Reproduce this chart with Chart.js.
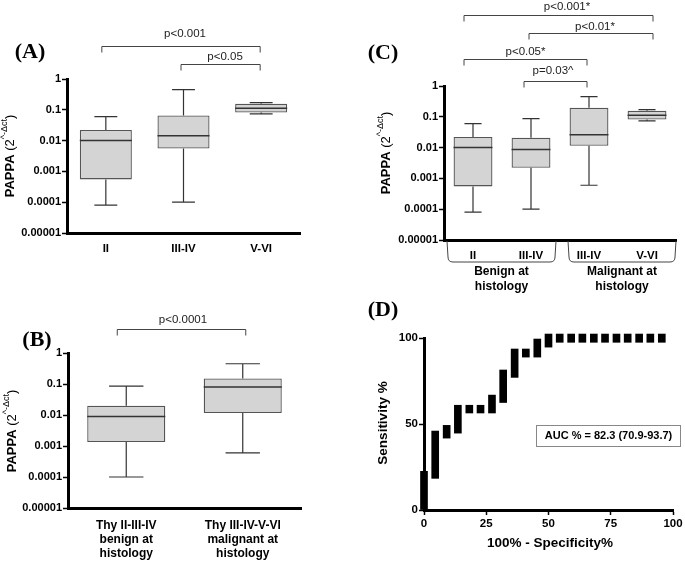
<!DOCTYPE html>
<html>
<head>
<meta charset="utf-8">
<script src="https://cdn.jsdelivr.net/npm/chart.js@4.4.1/dist/chart.umd.min.js"></script>
<style>
  body { margin: 0; background: #fff; }
  #wrap { position: relative; width: 685px; height: 562px; }
  #wrap canvas { position: absolute; left: 0; top: 0; }
</style>
</head>
<body>
<div id="wrap">
  <canvas id="chartA" width="685" height="562"></canvas>
  <canvas id="chartB" width="685" height="562"></canvas>
  <canvas id="chartC" width="685" height="562"></canvas>
  <canvas id="chartD" width="685" height="562"></canvas>
</div>
<script>
// shared log axis
var logTickValues = [0.00001, 0.0001, 0.001, 0.01, 0.1, 1];
var logTickLabels = ['0.00001', '0.0001', '0.001', '0.01', '0.1', '1'];

// (A) by Thy class
var aCategories = ['II', 'III-IV', 'V-VI'];
var aMin = [0.00008, 0.0001, 0.074];
var aQ1 = [0.00055, 0.0055, 0.082];
var aMedian = [0.01, 0.0145, 0.113];
var aQ3 = [0.022, 0.065, 0.156];
var aMax = [0.06, 0.45, 0.172];
var aPValues = ['p<0.001', 'p<0.05'];

// (B) benign vs malignant at histology
var bCategories = [['Thy II-III-IV', 'benign at', 'histology'], ['Thy III-IV-V-VI', 'malignant at', 'histology']];
var bMin = [0.0001, 0.0006];
var bQ1 = [0.00135, 0.0115];
var bMedian = [0.009, 0.08];
var bQ3 = [0.02, 0.15];
var bMax = [0.085, 0.45];
var bPValues = ['p<0.0001'];

// (C) Thy class split by histology
var cCategories = ['II', 'III-IV', 'III-IV', 'V-VI'];
var cGroups = [['Benign at', 'histology'], ['Malignant at', 'histology']];
var cMin = [0.00008, 0.0001, 0.0006, 0.074];
var cQ1 = [0.00055, 0.0022, 0.0115, 0.082];
var cMedian = [0.01, 0.0087, 0.026, 0.113];
var cQ3 = [0.022, 0.021, 0.195, 0.156];
var cMax = [0.06, 0.087, 0.45, 0.172];
var cPValues = ['p<0.001*', 'p<0.01*', 'p<0.05*', 'p=0.03^'];

// (D) ROC
var rocX = [0, 4.5, 9.1, 13.6, 18.2, 22.7, 27.3, 31.8, 36.4, 40.9, 45.5, 50, 54.5, 59.1, 63.6, 68.2, 72.7, 77.3, 81.8, 86.4, 90.9, 95.5];
var rocLow = [0, 18.4, 41.8, 44.7, 56.4, 56.4, 56.4, 62.5, 77.1, 88.9, 88.9, 94.7, 97.5, 97.5, 97.5, 97.5, 97.5, 97.5, 97.5, 97.5, 97.5, 97.5];
var rocHigh = [22.5, 45.9, 49.2, 60.9, 60.9, 60.9, 66.8, 81.4, 93.6, 93.6, 99.4, 102.3, 102.3, 102.3, 102.3, 102.3, 102.3, 102.3, 102.3, 102.3, 102.3, 102.3];
var rocXTicks = [0, 25, 50, 75, 100];
var rocYTicks = [0, 50, 100];
var aucLabel = 'AUC % = 82.3 (70.9-93.7)';

var SANS = '"Liberation Sans", Arial, sans-serif';
Chart.defaults.font.family = SANS;
Chart.defaults.color = '#000';

// whiskers + median on top of the floating bars
var boxWhiskers = {
  id: 'boxWhiskers',
  afterDatasetsDraw: function (chart) {
    var ds = chart.data.datasets[0];
    if (!ds.medians) return;
    var yScale = chart.scales.y;
    var ctx = chart.ctx;
    ctx.save();
    ctx.strokeStyle = '#333';
    chart.getDatasetMeta(0).data.forEach(function (bar, i) {
      var p = bar.getProps(['x', 'width'], true);
      var half = p.width / 2;
      var cap = p.width * 0.22;
      var yLo = yScale.getPixelForValue(ds.mins[i]);
      var yQ1 = yScale.getPixelForValue(ds.data[i][0]);
      var yQ3 = yScale.getPixelForValue(ds.data[i][1]);
      var yHi = yScale.getPixelForValue(ds.maxs[i]);
      var yMed = yScale.getPixelForValue(ds.medians[i]);
      ctx.lineWidth = 1.2;
      ctx.beginPath();
      ctx.moveTo(p.x, yQ3); ctx.lineTo(p.x, yHi);
      ctx.moveTo(p.x - cap, yHi); ctx.lineTo(p.x + cap, yHi);
      ctx.moveTo(p.x, yQ1); ctx.lineTo(p.x, yLo);
      ctx.moveTo(p.x - cap, yLo); ctx.lineTo(p.x + cap, yLo);
      ctx.stroke();
      ctx.lineWidth = 1.5;
      ctx.beginPath();
      ctx.moveTo(p.x - half, yMed); ctx.lineTo(p.x + half, yMed);
      ctx.stroke();
    });
    ctx.restore();
  }
};

function drawLetter(ctx, text, x, y) {
  ctx.save();
  ctx.font = 'bold 22px "Liberation Serif", "Times New Roman", serif';
  ctx.fillStyle = '#000';
  ctx.textAlign = 'center';
  ctx.textBaseline = 'middle';
  ctx.fillText(text, x, y);
  ctx.restore();
}

function drawPappaTitle(ctx, cx, cy) {
  var parts = [
    { t: 'PAPPA ', f: 'bold 13px ' + SANS, dy: 0 },
    { t: '(2', f: '13px ' + SANS, dy: 0 },
    { t: '^-\u0394ct', f: '9px ' + SANS, dy: -5 },
    { t: ')', f: '13px ' + SANS, dy: 0 }
  ];
  ctx.save();
  ctx.translate(cx, cy);
  ctx.rotate(-Math.PI / 2);
  var total = 0;
  parts.forEach(function (p) { ctx.font = p.f; p.w = ctx.measureText(p.t).width; total += p.w; });
  var x = -total / 2;
  ctx.fillStyle = '#000';
  ctx.textAlign = 'left';
  ctx.textBaseline = 'middle';
  parts.forEach(function (p) { ctx.font = p.f; ctx.fillText(p.t, x, p.dy); x += p.w; });
  ctx.restore();
}

function drawBracket(ctx, x1, x2, y, text, textDx, textY) {
  ctx.save();
  ctx.strokeStyle = '#444';
  ctx.lineWidth = 1;
  ctx.beginPath();
  ctx.moveTo(x1, y + 6);
  ctx.lineTo(x1, y);
  ctx.lineTo(x2, y);
  ctx.lineTo(x2, y + 6);
  ctx.stroke();
  ctx.font = '11.5px ' + SANS;
  ctx.fillStyle = '#222';
  ctx.textAlign = 'center';
  ctx.textBaseline = 'middle';
  ctx.fillText(text, (x1 + x2) / 2 + textDx, textY);
  ctx.restore();
}

function drawGroup(ctx, x1, x2, yTop, yBot, lines) {
  ctx.save();
  ctx.strokeStyle = '#444';
  ctx.lineWidth = 1;
  ctx.beginPath();
  ctx.moveTo(x1, yTop);
  ctx.lineTo(x1 + 1, yBot - 5);
  ctx.quadraticCurveTo(x1 + 1, yBot, x1 + 6, yBot);
  ctx.lineTo(x2 - 6, yBot);
  ctx.quadraticCurveTo(x2 - 1, yBot, x2 - 1, yBot - 5);
  ctx.lineTo(x2, yTop);
  ctx.stroke();
  ctx.font = 'bold 12px ' + SANS;
  ctx.fillStyle = '#000';
  ctx.textAlign = 'center';
  ctx.textBaseline = 'middle';
  lines.forEach(function (t, i) { ctx.fillText(t, (x1 + x2) / 2, yBot + 10 + i * 14.5); });
  ctx.restore();
}

function logBoxChart(id, area, labels, q1, q3, mins, medians, maxs, xFont, xPad, notes) {
  var yWidth = 60, xHeight = 60;
  return new Chart(document.getElementById(id), {
    type: 'bar',
    data: {
      labels: labels,
      datasets: [{
        data: q1.map(function (v, i) { return [v, q3[i]]; }),
        mins: mins, medians: medians, maxs: maxs,
        backgroundColor: '#d4d4d4',
        borderColor: '#555',
        borderWidth: 1.3,
        borderSkipped: false,
        barPercentage: 0.67,
        categoryPercentage: 1
      }]
    },
    options: {
      responsive: false,
      devicePixelRatio: 1,
      animation: false,
      layout: { padding: { left: area.left - yWidth, right: 685 - area.right, top: area.top, bottom: 562 - area.bottom - xHeight } },
      plugins: { legend: { display: false }, tooltip: { enabled: false } },
      scales: {
        x: {
          grid: { display: true, drawOnChartArea: false, drawTicks: false },
          border: { display: true, color: '#000', width: 3 },
          ticks: { font: { size: xFont, weight: 'bold' }, color: '#000', padding: xPad, maxRotation: 0, autoSkip: false },
          afterFit: function (s) { s.height = xHeight; }
        },
        y: {
          type: 'logarithmic',
          min: 0.00001,
          max: 1,
          afterBuildTicks: function (s) { s.ticks = logTickValues.map(function (v) { return { value: v }; }); },
          grid: { drawOnChartArea: false, drawTicks: true, tickLength: 5, tickColor: '#000', tickWidth: 1.5 },
          border: { display: true, color: '#000', width: 3 },
          ticks: { font: { size: 11, weight: 'bold' }, color: '#000', padding: 1, callback: function (v, i) { return logTickLabels[i]; } },
          afterFit: function (s) { s.width = yWidth; }
        }
      }
    },
    plugins: [boxWhiskers, { id: id + 'Notes', afterDraw: notes }]
  });
}

logBoxChart('chartA', { left: 67, right: 300, top: 79, bottom: 233 }, aCategories, aQ1, aQ3, aMin, aMedian, aMax, 11.5, 9, function (chart) {
  var ctx = chart.ctx, x = chart.scales.x;
  var c = aCategories.map(function (_, i) { return x.getPixelForValue(i); });
  drawLetter(ctx, '(A)', 30, 52);
  drawPappaTitle(ctx, 10, 156);
  drawBracket(ctx, c[0] - 4, c[2] - 1, 46.5, aPValues[0], 4, 34);
  drawBracket(ctx, c[1] - 2.5, c[2] - 1, 64.5, aPValues[1], 4.5, 57);
});

logBoxChart('chartB', { left: 68, right: 301, top: 353, bottom: 508 }, bCategories, bQ1, bQ3, bMin, bMedian, bMax, 12, 10, function (chart) {
  var ctx = chart.ctx, x = chart.scales.x;
  var c = bCategories.map(function (_, i) { return x.getPixelForValue(i); });
  drawLetter(ctx, '(B)', 37, 340);
  drawPappaTitle(ctx, 12, 431);
  drawBracket(ctx, c[0] - 9, c[1] + 3, 329.5, bPValues[0], 1.5, 320);
});

logBoxChart('chartC', { left: 444, right: 676, top: 86, bottom: 240 }, cCategories, cQ1, cQ3, cMin, cMedian, cMax, 11.5, 9, function (chart) {
  var ctx = chart.ctx, x = chart.scales.x;
  var c = cCategories.map(function (_, i) { return x.getPixelForValue(i); });
  drawLetter(ctx, '(C)', 383, 53);
  drawPappaTitle(ctx, 386, 153);
  drawBracket(ctx, c[0] - 9, c[3] + 6, 15.5, cPValues[0], 8.5, 7);
  drawBracket(ctx, c[1] - 2, c[3] + 6, 33.5, cPValues[1], 4, 27);
  drawBracket(ctx, c[0] - 9, c[2] - 2, 59.5, cPValues[2], 0, 52);
  drawBracket(ctx, c[1] - 7, c[2] - 2, 81.5, cPValues[3], -2.5, 71);
  drawGroup(ctx, c[0] - 26, c[1] + 25, 241, 262, cGroups[0]);
  drawGroup(ctx, c[2] - 21, c[3] + 29, 241, 262, cGroups[1]);
});

// (D) ROC: floating bars on a linear x scale
var dArea = { left: 424, right: 673, top: 338, bottom: 510 };
new Chart(document.getElementById('chartD'), {
  type: 'bar',
  data: {
    datasets: [{
      data: rocX.map(function (v, i) { return { x: v, y: [rocLow[i], rocHigh[i]] }; }),
      backgroundColor: '#000',
      borderWidth: 0,
      barThickness: 7,
      clip: false
    }]
  },
  options: {
    responsive: false,
    devicePixelRatio: 1,
    animation: false,
    layout: { padding: { left: dArea.left - 60, right: 685 - dArea.right, top: dArea.top, bottom: 562 - dArea.bottom - 40 } },
    plugins: { legend: { display: false }, tooltip: { enabled: false } },
    scales: {
      x: {
        type: 'linear',
        min: 0,
        max: 100,
        offset: false,
        afterBuildTicks: function (s) { s.ticks = rocXTicks.map(function (v) { return { value: v }; }); },
        grid: { drawOnChartArea: false, offset: false, tickLength: 5, tickColor: '#000', tickWidth: 1.5 },
        border: { display: true, color: '#000', width: 3 },
        ticks: { font: { size: 11.5, weight: 'bold' }, color: '#000', padding: 2, maxRotation: 0 },
        afterFit: function (s) { s.height = 40; }
      },
      y: {
        min: 0,
        max: 100,
        afterBuildTicks: function (s) { s.ticks = rocYTicks.map(function (v) { return { value: v }; }); },
        grid: { drawOnChartArea: false, tickLength: 5, tickColor: '#000', tickWidth: 1.5 },
        border: { display: true, color: '#000', width: 3 },
        ticks: { font: { size: 11.5, weight: 'bold' }, color: '#000', padding: 1 },
        afterFit: function (s) { s.width = 60; }
      }
    }
  },
  plugins: [{
    id: 'rocNotes',
    afterDraw: function (chart) {
      var ctx = chart.ctx;
      drawLetter(ctx, '(D)', 383, 310);
      ctx.save();
      ctx.fillStyle = '#000';
      ctx.font = 'bold 13.5px ' + SANS;
      ctx.textAlign = 'center';
      ctx.textBaseline = 'middle';
      ctx.fillText('100% - Specificity%', 550, 543);
      ctx.translate(383, 423);
      ctx.rotate(-Math.PI / 2);
      ctx.fillText('Sensitivity %', 0, 0);
      ctx.restore();
      ctx.save();
      ctx.strokeStyle = '#888';
      ctx.lineWidth = 1;
      ctx.strokeRect(536.5, 425.5, 144, 21);
      ctx.fillStyle = '#000';
      ctx.font = 'bold 11px ' + SANS;
      ctx.textAlign = 'center';
      ctx.textBaseline = 'middle';
      ctx.fillText(aucLabel, 608.5, 436);
      ctx.restore();
    }
  }]
});
</script>
</body>
</html>
